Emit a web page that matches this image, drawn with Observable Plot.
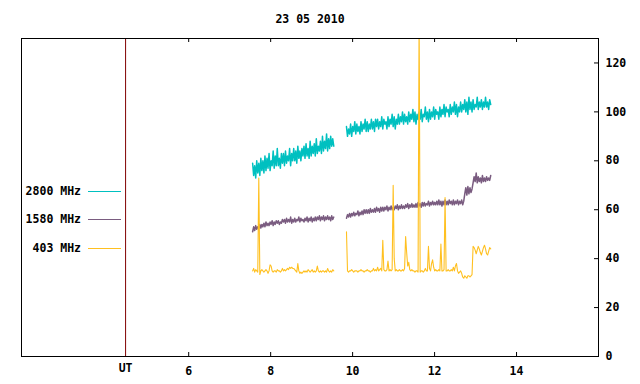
<!DOCTYPE html>
<html><head><meta charset="utf-8">
<script src="https://cdn.jsdelivr.net/npm/d3@7"></script>
<script src="https://cdn.jsdelivr.net/npm/@observablehq/plot@0.6"></script>
<style>
body{margin:0;background:#fff;}
#wrap{position:relative;width:640px;height:384px;font-family:"DejaVu Sans Mono",monospace;font-weight:bold;font-size:11.5px;color:#000;}
.leg{position:absolute;left:0;width:81px;text-align:right;line-height:12px;white-space:pre;}
.ll{position:absolute;left:88px;width:33px;height:1px;}
</style></head><body><div id="wrap"></div>
<script>
const title = "23 05 2010";
const xTicks = [6, 8, 10, 12, 14];
const utTick = [4.46];
const utLabel = ["UT"];
const yTicks = [0, 20, 40, 60, 80, 100, 120];
const seriesNames = ["2800 MHz", "1580 MHz", "403 MHz"];
const seriesColors = ["#00c0c0", "#7a5c80", "#ffc020"];
const seriesWidths = [1.5, 1.5, 1.1];
// time spans (UT hours) of the two recording segments
const seg1Span = [7.56, 9.54];
const seg2Span = [9.85, 13.37];

const cyan1 = [
79,74,78,73,80,75,79,74,81,76,
80,75,82,76,81,77,83,76,80,78,
84,77,82,78,85,78,81,77,83,79,
83,78,84,79,82,80,85,78,83,80,
85,80,84,79,86,81,84,80,85,82,
86,81,87,82,85,81,88,82,86,83,
87,82,89,83,86,84,88,83,90,84,
88,85,91,84,89,85,90,86,89,86];
const cyan2 = [
94,90,93,91,95,90,94,92,96,91,
95,92,94,91,96,92,95,93,97,92,
96,92,95,93,97,93,96,92,97,94,
97,93,96,94,98,93,97,95,96,93,
98,94,97,95,99,94,98,93,97,95,
99,95,98,96,100,95,99,96,98,95,
100,96,99,97,101,96,100,95,99,97,
100,97,101,96,99,98,102,97,100,96,
101,97,100,98,102,97,101,99,100,97,
102,98,101,99,103,98,102,100,101,98,
103,99,102,100,104,99,103,98,102,100,
104,100,103,101,105,100,104,99,106,101,
104,100,105,101,103,102,106,101,104,102,
105,101,104,102,106,102,104,101,105,103];
const purple1 = [
51,53,51.5,53.5,52,53,52.5,54,52.5,54,
53,54.5,53,55,53.5,54.5,53.5,55,54,55.5,
53.5,55,54,55.5,54.5,55.5,54,55,54.5,56,
55,56,54.5,56.5,55,56,55,57,54.5,56,
55,56.5,55,56,55.5,57,55,56.5,55.5,56,
55,56.5,55.5,57,55,56.5,55.5,57,55,56.5,
55.5,57,55.5,57,56,57.5,55.5,57,56,57.5,
55.5,57,56,57.5,56,57,55.5,57.5,56,57];
const purple2 = [
56.5,58,57,58.5,57,58.5,57.5,59,57.5,58.5,
58,59.5,57.5,59,58,59.5,58,60,58.5,60,
58.5,60,58.5,60.5,59,60,59,60.5,59,61,
59.5,60.5,59,61,59.5,61,59.5,61,60,61.5,
59.5,61,60,61.5,60,61,60,61.5,60.5,62,
60,61.5,60.5,62,60.5,61.5,60.5,62,61,62.5,
60.5,62,61,62.5,61,62,61,62.5,61,63,
61.5,62.5,61,63,61.5,63,61.5,62.5,62,63.5,
61.5,63,62,63.5,62,63,62,63.5,62,64,
62,63.5,61.5,63.5,62,64,62,63.5,62,64,
62.5,63.5,62,64,62,63.5,62.5,64,62,63.5,
62.5,64,62,63.5,
66.5,69,66,69.5,66.5,69,67,68.5,
71,73.5,71.5,75,71,73.5,71.5,73,71,74,71.5,73,71.5,73.5,72,73,72,74];
const gold1 = [
35,36,34.5,35.5,35,34.5,73,33.5,35,35.5,
35,34.5,35,35.5,35,34,35,37.5,37,35,
34.5,35,35,34.5,35.5,35,35,34.5,35,36,
35,35.5,35,35.5,36,35.5,36.5,36,36.5,36,
36,35.5,35,34.5,38,35,34,34.5,34,34.5,
35,34.5,35,34.5,35.5,35,34.5,35,35.5,34.5,
35,34.5,35,37,35,34.5,35,34.5,35,35,
34.5,35,34.5,36,35,34.5,35,34.5,35.5,35];
const gold2 = [
51,35,34.5,35,35,35.5,35,34.5,35,35,
35,34.5,35,35,35.5,35,35,34.5,35,35,
35.5,35,35,34.5,35,35,36,35,35.5,35,
36.5,35,35.5,36,35,47.5,35.5,35,35,35.5,
39,35,35.5,35,35.5,70,40,35,35.5,35,
35,35.5,35,35,35.5,35,36,49,42.5,37,
38.5,35.5,35,35.5,35,35,34.5,35,35,34.5,
140,34.5,35,35,34.5,35,36,35,35,45,
36,35,38,39.5,36.5,35,35.5,35,35,35.5,
35,46,35,35,35.5,65,35,35,35.5,35,
35,35.5,35,36.5,35,37,38,35,34,34.5,
35,34,32.5,32,33,32.5,32,33,33,32.5,
33,33.5,45,44.5,43.5,42,43.5,45,44,42.5,
41.5,43,44.5,45.5,44,42,41.5,43,44.5,44];

function rows(vals, span, seg) {
  const n = vals.length;
  return vals.map((v, i) => ({t: span[0] + (span[1] - span[0]) * i / (n - 1), v, seg}));
}
const cyanData = [...rows(cyan1, seg1Span, 1), ...rows(cyan2, seg2Span, 2)];
const purpleData = [...rows(purple1, seg1Span, 1), ...rows(purple2, seg2Span, 2)];
const goldData = [...rows(gold1, seg1Span, 1), ...rows(gold2, seg2Span, 2)];

const lineOpts = (i) => ({x: "t", y: "v", z: "seg", stroke: seriesColors[i], strokeWidth: seriesWidths[i], clip: true, curve: "linear"});

const chart = Plot.plot({
  width: 640, height: 384,
  marginTop: 38, marginBottom: 28, marginLeft: 21, marginRight: 42,
  style: {fontFamily: "DejaVu Sans Mono, monospace", fontWeight: "bold", fontSize: "11.5px", background: "#fff", color: "#000"},
  x: {domain: [1.92, 16], label: null},
  y: {domain: [0, 130], label: null},
  marks: [
    Plot.line(cyanData, lineOpts(0)),
    Plot.line(purpleData, lineOpts(1)),
    Plot.line(goldData, lineOpts(2)),
    Plot.ruleX(utTick, {x: d => d, stroke: "#800000", strokeWidth: 1}),
    Plot.tickX(xTicks, {x: d => d, insetTop: 314, stroke: "#000"}),
    Plot.tickX(xTicks, {x: d => d, insetBottom: 314, stroke: "#000"}),
    Plot.tickY(yTicks, {y: d => d, insetLeft: 573, stroke: "#000"}),
    Plot.frame({stroke: "#000", strokeWidth: 1}),
    Plot.axisX(xTicks, {anchor: "bottom", tickSize: 0, tickPadding: 10, tickFormat: d => String(d), label: null}),
    Plot.axisY(yTicks, {anchor: "right", tickSize: 0, tickPadding: 7, tickFormat: d => String(d), label: null}),
    Plot.text(utLabel, {x: utTick[0], frameAnchor: "bottom", lineAnchor: "top", dy: 7}),
    Plot.text([title], {frameAnchor: "top", lineAnchor: "middle", dy: -19})
  ]
});
const wrap = document.getElementById("wrap");
wrap.appendChild(chart);
const legY = [191, 219, 248];
seriesNames.forEach((name, i) => {
  const d = document.createElement("div");
  d.className = "leg"; d.textContent = name; d.style.top = (legY[i] - 6) + "px";
  wrap.appendChild(d);
  const l = document.createElement("div");
  l.className = "ll"; l.style.top = legY[i] + "px"; l.style.background = seriesColors[i];
  wrap.appendChild(l);
});
</script></body></html>
